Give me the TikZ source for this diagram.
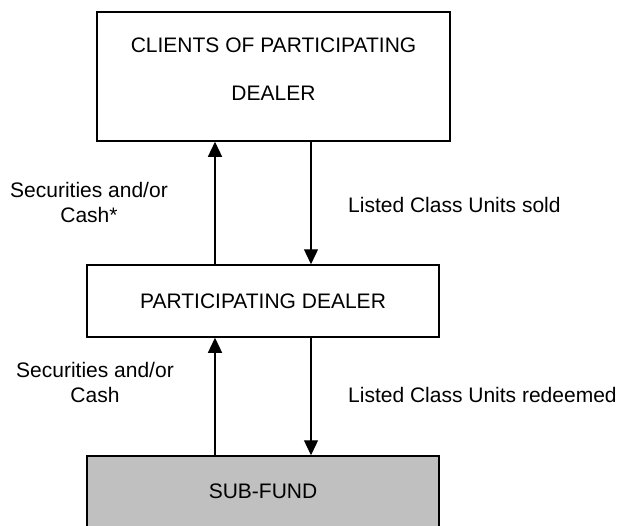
\documentclass[tikz,border=0pt]{standalone}
\usepackage{fontspec}
\setmainfont{Liberation Sans}
\usetikzlibrary{arrows.meta}
\definecolor{fundgray}{HTML}{C0C0C0}
\begin{document}
\begin{tikzpicture}[x=1pt,y=-1pt,
  box/.style={draw, line width=1.5pt, inner sep=0pt, align=center,
    font=\fontsize{21}{25}\selectfont},
  flow/.style={line width=1.3pt, -{Triangle[length=15pt,width=14pt]}},
  lbl/.style={font=\fontsize{21}{25}\selectfont, align=center, inner sep=0pt}]
\useasboundingbox (0,0) rectangle (620,525);
\node[box, minimum width=353pt, minimum height=129pt, text depth=14pt,
  font=\fontsize{21}{48}\selectfont] (clients) at (273.5,76.5)
  {CLIENTS OF PARTICIPATING\\DEALER};
\node[box, minimum width=352pt, minimum height=72pt] (dealer) at (263,301)
  {PARTICIPATING DEALER};
\node[box, fill=fundgray, minimum width=352pt, minimum height=71pt] (fund) at (263,491.5)
  {SUB-FUND};
\coordinate (ux) at (215,0);
\coordinate (dx) at (311,0);
\draw[flow] (dealer.north -| ux) -- (clients.south -| ux);
\draw[flow] (clients.south -| dx) -- (dealer.north -| dx);
\draw[flow] (fund.north -| ux) -- (dealer.south -| ux);
\draw[flow] (dealer.south -| dx) -- (fund.north -| dx);
\node[lbl, anchor=base] (l1) at (89,222) {Securities and/or\\Cash*};
\node[lbl, anchor=base west] (r1) at (348,212) {Listed Class Units sold};
\node[lbl, anchor=base] (l2) at (95,402) {Securities and/or\\Cash};
\node[lbl, anchor=base west] (r2) at (348,402) {Listed Class Units redeemed};
\end{tikzpicture}
\end{document}
